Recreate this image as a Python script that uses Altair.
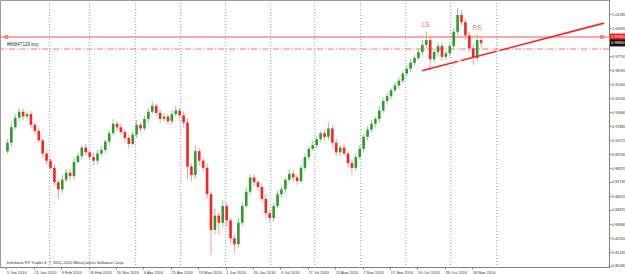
import altair as alt
import pandas as pd

# ---------------- data ----------------
first_open = 0.898
close = [
    0.905, 0.918, 0.926, 0.931, 0.927, 0.929, 0.920, 0.915, 0.907, 0.896,
    0.890, 0.884, 0.872, 0.866, 0.874, 0.880, 0.877, 0.889, 0.894, 0.901,
    0.897, 0.893, 0.890, 0.896, 0.899, 0.906, 0.913, 0.921, 0.918, 0.914,
    0.909, 0.904, 0.912, 0.920, 0.917, 0.925, 0.931, 0.936, 0.930, 0.925,
    0.927, 0.923, 0.929, 0.932, 0.928, 0.922, 0.885, 0.878, 0.898, 0.890,
    0.884, 0.862, 0.832, 0.844, 0.838, 0.852, 0.840, 0.825, 0.820, 0.838,
    0.852, 0.864, 0.876, 0.872, 0.868, 0.858, 0.846, 0.842, 0.852, 0.862,
    0.866, 0.874, 0.879, 0.876, 0.873, 0.884, 0.893, 0.900, 0.903, 0.908,
    0.913, 0.910, 0.917, 0.905, 0.897, 0.901, 0.896, 0.888, 0.884, 0.893,
    0.900, 0.910, 0.916, 0.921, 0.925, 0.932, 0.940, 0.944, 0.949, 0.953,
    0.957, 0.963, 0.967, 0.972, 0.976, 0.981, 0.987, 0.991, 0.975, 0.981,
    0.986, 0.977, 0.980, 0.986, 0.998, 1.012, 1.006, 0.995, 0.984, 0.976,
    0.991, 0.9886,
]
wick_up = [
    3, 4, 3, 3, 3, 2, 3, 2, 3, 2,
    3, 2, 3, 2, 4, 3, 3, 4, 3, 2,
    3, 2, 4, 3, 3, 2, 3, 4, 2, 3,
    2, 3, 3, 4, 2, 3, 3, 4, 2, 3,
    3, 2, 3, 4, 2, 3, 4, 3, 5, 3,
    2, 4, 3, 6, 3, 5, 3, 2, 3, 4,
    3, 4, 3, 3, 2, 3, 4, 2, 3, 3,
    3, 2, 4, 3, 2, 3, 3, 2, 4, 3,
    2, 3, 5, 3, 3, 2, 3, 2, 3, 3,
    3, 2, 3, 3, 2, 4, 3, 3, 2, 3,
    3, 2, 3, 3, 2, 3, 4, 7, 4, 3,
    3, 3, 2, 3, 3, 6, 4, 3, 3, 4,
    5, 3,
]
wick_dn = [
    2, 3, 2, 3, 3, 2, 3, 3, 2, 3,
    3, 2, 3, 8, 3, 2, 4, 3, 2, 3,
    3, 2, 4, 3, 2, 3, 3, 2, 3, 2,
    3, 4, 2, 3, 3, 2, 3, 2, 3, 4,
    2, 3, 3, 2, 3, 4, 10, 5, 3, 4,
    3, 4, 21, 4, 10, 4, 5, 4, 8, 3,
    3, 2, 3, 4, 3, 3, 5, 4, 3, 2,
    3, 3, 2, 4, 3, 2, 3, 3, 2, 3,
    2, 3, 3, 4, 3, 3, 2, 4, 6, 3,
    2, 3, 3, 2, 3, 3, 2, 3, 3, 2,
    3, 2, 3, 3, 3, 2, 3, 3, 9, 3,
    4, 3, 3, 3, 2, 3, 3, 4, 3, 6,
    3, 4,
]

date_labels = ["5 Jan 2010", "21 Jan 2010", "9 Feb 2010", "26 Feb 2010",
               "16 Mar 2010", "6 Apr 2010", "25 Apr 2010", "13 May 2010",
               "1 Jun 2010", "20 Jun 2010", "9 Jul 2010", "27 Jul 2010",
               "15 Aug 2010", "2 Sep 2010", "21 Sep 2010", "10 Oct 2010",
               "28 Oct 2010", "16 Nov 2010"]
label_bars = [14 * i for i in range(len(date_labels))]
price_ticks = [1.01285, 1.00095, 0.97750, 0.96595, 0.95405, 0.94250, 0.93060,
               0.91885, 0.90725, 0.89530, 0.88370, 0.87235, 0.86025, 0.84870,
               0.83680, 0.82520, 0.81335, 0.80180]
grid_bars = [22, 42.5, 66, 89, 112, 135, 157.5, 181, 204, 227, 250.5]

trend_bars = [211.8, 305.3]
trend_prices = [0.9651, 1.0052]
trend_anchor_bars = [211.8, 231.5, 251.2]
trend_anchor_prices = [0.9651, 0.9736, 0.9820]

hline_price = 0.9936
order_price = 0.9835
bid_price = 0.9886
order_text = "#86847129 buy"
shoulder_labels = ["LS", "RS"]
shoulder_bars = [214.3, 240.4]
shoulder_prices = [1.0036, 1.0011]
copyright_text = "Interbank FX Trader 4, \u00a9 2001-2010 MetaQuotes Software Corp."

X_DOMAIN = [-0.75, 305.3]
Y_DOMAIN = [0.80096, 1.02458]
FONT = "Liberation Sans"
FS_X = 4.0
FS_Y = 3.8

# ---------------- tables ----------------
rows = []
prev = first_open
for j, c in enumerate(close):
    o = prev
    rows.append({
        "bar": 2 * j + 0.5,
        "open": o,
        "close": c,
        "high": max(o, c) + wick_up[j] / 1000.0,
        "low": min(o, c) - wick_dn[j] / 1000.0,
        "dir": "up" if c >= o else "down",
    })
    prev = c
candles = pd.DataFrame(rows)

xs = alt.Scale(domain=X_DOMAIN, nice=False, zero=False)
ys = alt.Scale(domain=Y_DOMAIN, nice=False, zero=False)

label_js = "[" + ",".join("'%s'" % s for s in date_labels) + "]"

x_axis = alt.Axis(values=label_bars, labelExpr=label_js + "[round(datum.value/14)]",
                  labelAlign="left", labelPadding=1, tickSize=2, grid=False,
                  labelFontSize=FS_X, labelFont=FONT, labelColor="#333",
                  domainColor="#808080", tickColor="#808080", labelOverlap=False,
                  title=None, orient="bottom", labelFlush=False)
y_axis = alt.Axis(values=price_ticks, format=".5f", orient="right", labelAlign="left",
                  labelPadding=0.5, tickSize=2, grid=False, labelFontSize=FS_Y,
                  labelFont=FONT, labelColor="#333",
                  domainColor="#808080", tickColor="#808080", labelOverlap=False,
                  title=None, labelBaseline="middle")

def X(f="bar"):
    return alt.X(f + ":Q", scale=xs, axis=x_axis)

def Y(f):
    return alt.Y(f + ":Q", scale=ys, axis=y_axis)

grid = alt.Chart(pd.DataFrame({"bar": grid_bars})).mark_rule(
    color="#9a9a9a", strokeDash=[1, 2], strokeWidth=1
).encode(x=X())

hline = alt.Chart(pd.DataFrame({"p": [hline_price]})).mark_rule(
    color="#ff5050", strokeWidth=1
).encode(y=Y("p"))

hline_marks = alt.Chart(pd.DataFrame({"bar": [0.0, 304.2], "p": [hline_price] * 2})).mark_square(
    size=8, filled=False, color="#ff3030", strokeWidth=1
).encode(x=X(), y=Y("p"))

order_line = alt.Chart(pd.DataFrame({"p": [order_price]})).mark_rule(
    color="#ff7070", strokeDash=[6, 2, 1, 2], strokeWidth=1
).encode(y=Y("p"))

order_label = alt.Chart(pd.DataFrame({"bar": [0.3], "p": [order_price + 0.0035], "t": [order_text]})).mark_text(
    align="left", baseline="middle", fontSize=4.6, font=FONT, color="#333"
).encode(x=X(), y=Y("p"), text="t:N")

def candle_layers(direction, wick_color, body_color):
    b = alt.Chart(candles).transform_filter(alt.datum.dir == direction)
    w = b.mark_rule(strokeWidth=1, color=wick_color).encode(x=X(), y=Y("low"), y2="high:Q")
    bd = b.mark_bar(size=2.6, color=body_color).encode(x=X(), y=Y("open"), y2="close:Q")
    return [w, bd]

up_layers = candle_layers("up", "#8fcf8f", "#2f9a2f")
down_layers = candle_layers("down", "#ff9c9c", "#ff2020")

trend = alt.Chart(pd.DataFrame({"bar": trend_bars, "p": trend_prices})).mark_line(
    color="#ff2020", strokeWidth=1.6, clip=True
).encode(x=X(), y=Y("p"))

trend_pts = alt.Chart(pd.DataFrame({"bar": trend_anchor_bars, "p": trend_anchor_prices})).mark_point(
    shape="circle", size=10, filled=True, fill="white", color="#ff2020", strokeWidth=1
).encode(x=X(), y=Y("p"))

shoulders = alt.Chart(pd.DataFrame({"bar": shoulder_bars, "p": shoulder_prices, "t": shoulder_labels})).mark_text(
    fontSize=6.5, font=FONT, color="#f07070", align="center", baseline="middle"
).encode(x=X(), y=Y("p"), text="t:N")

copyright = alt.Chart(pd.DataFrame({"bar": [0.0], "p": [0.8043], "t": [copyright_text]})).mark_text(
    align="left", baseline="middle", fontSize=4.1, font=FONT, color="#333"
).encode(x=X(), y=Y("p"), text="t:N")

# price boxes on the right axis
box_df = pd.DataFrame({
    "p": [hline_price, bid_price],
    "lo": [hline_price - 0.0029, bid_price - 0.0029],
    "hi": [hline_price + 0.0029, bid_price + 0.0029],
    "t": ["%.5f" % hline_price, "%.5f" % bid_price],
    "kind": ["line", "bid"],
})
boxes = alt.Chart(box_df).mark_rect(clip=False).encode(
    x=alt.value(610), x2=alt.value(625),
    y=Y("lo"), y2="hi:Q",
    color=alt.Color("kind:N", scale=alt.Scale(domain=["line", "bid"], range=["#ff1a1a", "#111111"]), legend=None),
)
box_text = alt.Chart(box_df).mark_text(
    clip=False, align="left", baseline="middle", fontSize=FS_Y, font=FONT, color="white"
).encode(x=alt.value(611), y=Y("p"), text="t:N")

chart = alt.layer(
    grid, hline, order_line, *up_layers, *down_layers, trend, trend_pts, hline_marks,
    order_label, shoulders, copyright, boxes, box_text
).properties(
    width=609, height=267,
    autosize=alt.AutoSizeParams(type="none"),
    padding={"left": 0, "top": 0, "right": 16, "bottom": 7},
    background="white",
).configure_view(stroke="#9a9a9a", strokeWidth=1).configure_axis(labelOverlap=False)

chart.save("out.html", embed_options={"renderer": "svg", "actions": False})
